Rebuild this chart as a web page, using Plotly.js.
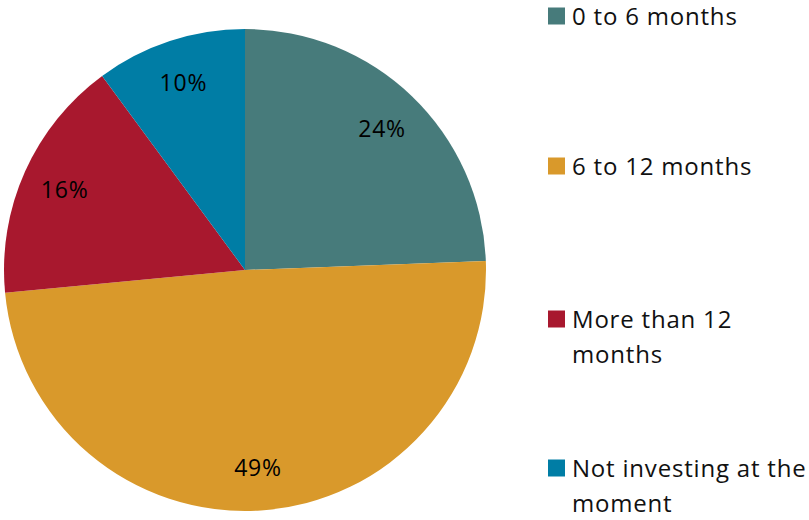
<!DOCTYPE html>
<html><head><meta charset="utf-8">
<script src="https://cdn.plot.ly/plotly-3.0.1.min.js"></script>
<style>html,body{margin:0;padding:0;background:#fff}#c{width:809px;height:520px}
#c text{letter-spacing:0.8px}</style>
</head><body><div id="c"></div>
<script>
const categories = ["0 to 6 months", "6 to 12 months", "More than 12 months", "Not investing at the moment"];
const legendLines = [["0 to 6 months"], ["6 to 12 months"], ["More than 12", "months"], ["Not investing at the", "moment"]];
const values = [24.4, 49.1, 16.4, 10.1];
const colors = ["#477B7B", "#D9992B", "#A8182E", "#007DA5"];
const legendCenters = [15, 165, 318, 467]; // first-line centre, px
const W = 809, H = 520;
const FONT = "'Open Sans', Lato, sans-serif";
const LINE = 35;

const shapes = [], annotations = [];
categories.forEach((c, i) => {
  const yc = legendCenters[i];
  shapes.push({type: 'rect', xref: 'paper', yref: 'paper',
    x0: 548 / W, x1: 565 / W, y0: 1 - (yc + 9.5) / H, y1: 1 - (yc - 7.5) / H,
    fillcolor: colors[i], line: {width: 0}});
  legendLines[i].forEach((ln, k) => {
    annotations.push({xref: 'paper', yref: 'paper', x: 570 / W, y: 1 - (yc + k * LINE) / H,
      xanchor: 'left', yanchor: 'middle', align: 'left', showarrow: false,
      text: ln, font: {family: FONT, size: 24, color: '#111'}});
  });
});

const dom = {x: [4 / W, 486 / W], y: [9 / H, 491 / H]};
Plotly.newPlot('c', [{
  type: 'pie', labels: categories, values: values, sort: false, direction: 'clockwise', rotation: 0,
  marker: {colors: colors, line: {width: 0}},
  textinfo: 'none', domain: dom, showlegend: false, hoverinfo: 'label+value'
}, {
  type: 'pie', labels: categories, values: values, sort: false, direction: 'clockwise', rotation: 0,
  hole: 0.64, marker: {colors: colors.map(() => 'rgba(0,0,0,0)'), line: {width: 0}},
  texttemplate: '%{value:.0f}%', textposition: 'inside', insidetextorientation: 'horizontal',
  textfont: {family: FONT, size: 23, color: '#000'},
  domain: dom, showlegend: false, hoverinfo: 'skip'
}], {
  width: W, height: H, margin: {l: 0, r: 0, t: 0, b: 0},
  paper_bgcolor: '#fff', showlegend: false,
  shapes: shapes, annotations: annotations
}, {displayModeBar: false, staticPlot: true});
</script></body></html>
